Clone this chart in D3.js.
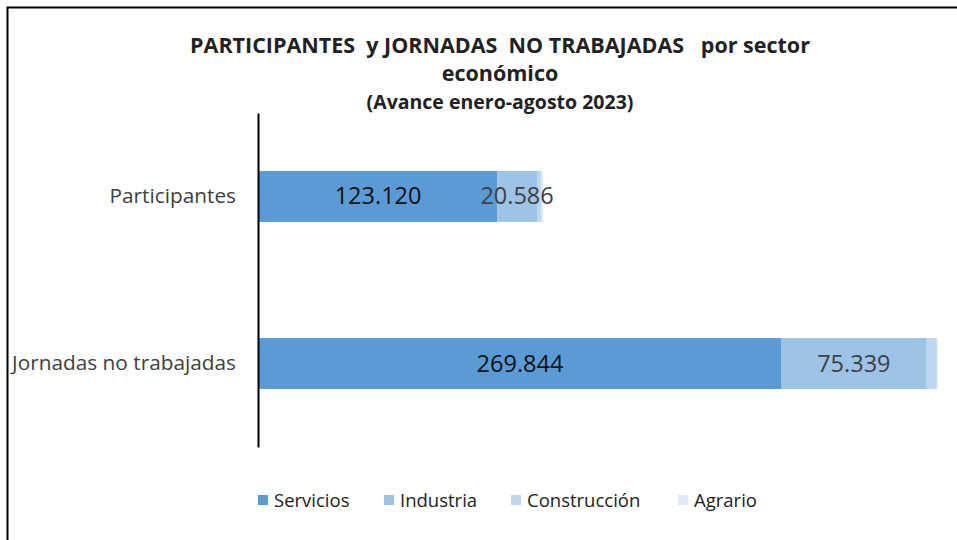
<!DOCTYPE html>
<html>
<head>
<meta charset="utf-8">
<script src="https://cdn.jsdelivr.net/npm/d3@7"></script>
<style>
body { margin: 0; background: #fff; }
text { font-family: "Open Sans", "Noto Sans", sans-serif; white-space: pre; }
</style>
</head>
<body>
<script>
// data
const categories = ["Participantes", "Jornadas no trabajadas"]
const sectors = ["Servicios", "Industria", "Construcción", "Agrario"]
const servicios = [123120, 269844]
const industria = [20586, 75339]
const construccion = [2300, 5200]
const agrario = [900, 600]
const colors = ["#5B9BD5", "#9DC3E6", "#BDD7EE", "#DEEBF7"]
const titleLines = ["PARTICIPANTES  y JORNADAS  NO TRABAJADAS   por sector", "económico", "(Avance enero-agosto 2023)"]

const W = 957, H = 540

const svg = d3.select("body").append("svg")
    .attr("width", W).attr("height", H)

// chart frame
svg.append("rect")
    .attr("x", 7.5).attr("y", 7.5)
    .attr("width", W + 10).attr("height", H + 10)
    .attr("fill", "none").attr("stroke", "#000").attr("stroke-width", 2)

// title
svg.append("g").selectAll("text")
    .data(titleLines)
    .enter().append("text")
    .attr("x", 500)
    .attr("y", (d, i) => 53 + i * 28)
    .attr("text-anchor", "middle")
    .attr("font-weight", "bold")
    .attr("font-size", (d, i) => i == 2 ? 19.5 : 21.5)
    .attr("fill", "#222")
    .text(d => d)

const rows = categories.map((c, i) => ({
    cat: c,
    vals: [servicios[i], industria[i], construccion[i], agrario[i]]
}))

const x = d3.scaleLinear().domain([0, 351000]).range([259, 938])
const y = d3.scaleBand().domain(categories).range([113, 447])
    .paddingInner(0.695).paddingOuter(0.347)

const stack = d3.stack().keys([0, 1, 2, 3]).value((d, k) => d.vals[k])
const layers = stack(rows)

svg.append("g").selectAll("g")
    .data(layers)
    .enter().append("g")
    .attr("fill", (d, i) => colors[i])
    .selectAll("rect")
    .data(d => d)
    .enter().append("rect")
    .attr("x", d => x(d[0]))
    .attr("width", d => x(d[1]) - x(d[0]))
    .attr("y", d => y(d.data.cat))
    .attr("height", y.bandwidth())

// value labels (only the two biggest sectors)
layers.slice(0, 2).forEach((layer, k) => {
    svg.append("g").selectAll("text")
        .data(layer)
        .enter().append("text")
        .attr("x", d => (x(d[0]) + x(d[1])) / 2)
        .attr("y", d => y(d.data.cat) + y.bandwidth() / 2 + 8)
        .attr("text-anchor", "middle")
        .attr("font-size", 23.5)
        .attr("fill", k == 0 ? "#111" : "#404040")
        .text(d => d3.format(",")(d.data.vals[k]).replace(/,/g, "."))
})

// y axis
const yAxis = svg.append("g")
    .attr("transform", "translate(258,0)")
    .call(d3.axisLeft(y).tickSize(0).tickSizeOuter(0).tickPadding(22))
yAxis.select(".domain").attr("stroke", "#000").attr("stroke-width", 2)
yAxis.selectAll(".tick text")
    .attr("font-size", 20.8)
    .attr("fill", "#404040")
    .style("font-family", "'Open Sans', sans-serif")

// legend
const legendX = [258, 384, 511, 678]
const leg = svg.append("g").selectAll("g")
    .data(sectors)
    .enter().append("g")
    .attr("transform", (d, i) => "translate(" + legendX[i] + ",495)")
leg.append("rect")
    .attr("width", 10).attr("height", 10)
    .attr("fill", (d, i) => colors[i])
leg.append("text")
    .attr("x", 16).attr("y", 12)
    .attr("font-size", 18.5)
    .attr("fill", "#222")
    .text(d => d)
</script>
</body>
</html>
